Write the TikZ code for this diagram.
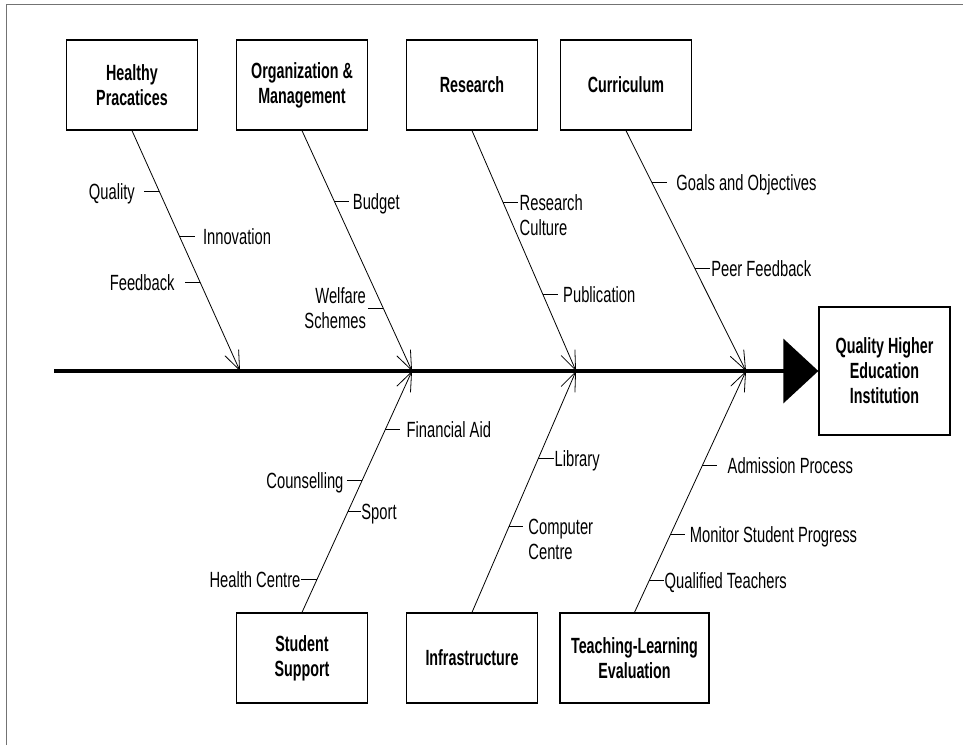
\documentclass[tikz,border=0pt]{standalone}
\usepackage{fontspec}
\setmainfont{Liberation Sans}
\newfontfamily\lblfont[FakeStretch=0.67]{Liberation Sans}
\newfontfamily\boxfont[FakeStretch=0.65]{Liberation Sans Bold}
\usetikzlibrary{arrows.meta, positioning, calc}

\begin{document}
\begin{tikzpicture}[x=1pt,y=-1pt,node distance=170pt,
  cat/.style={draw, line width=1.3pt, minimum width=131pt, minimum height=90pt,
    align=center, inner sep=2pt, font=\fontsize{22}{25}\boxfont},
  bone/.style={line width=0.8pt, -{Straight Barb[length=19pt,width=15pt]}},
  spine/.style={line width=3.5pt, -{Triangle[length=35pt,width=64pt]}},
  rib/.style={line width=1pt},
  sub/.style={font=\fontsize{22}{25}\lblfont, inner sep=0pt, text height=16pt, text depth=0pt},
  sub2/.style={font=\fontsize{22}{25}\lblfont, inner sep=0pt, align=left},
  pageedge/.style={draw=black!55, line width=0.8pt}]
  \useasboundingbox (0,0) rectangle (963,745);
  \draw[pageedge] (6,745) |- (963,4.5);

  % categories
  \node[cat] (hp)  at (132,85)           {Healthy\\Pracatices};
  \node[cat] (om)  [right of=hp]         {Organization \&\\Management};
  \node[cat] (res) [right of=om]         {Research};
  \node[cat] (cur) [right of=res, node distance=154pt] {Curriculum};
  \node[cat] (ss)  [below of=om, node distance=573pt]  {Student\\Support};
  \node[cat] (inf) [below of=res, node distance=573pt] {Infrastructure};
  \node[cat, minimum width=149pt] (tle) at (634.5,658) {Teaching-Learning\\Evaluation};
  \node[cat, minimum height=128pt] (qhe) at (884.5,371) {Quality Higher\\Education\\Institution};

  % spine
  \coordinate (tail) at (54,371);
  \coordinate (j1) at (240,371);
  \coordinate (j2) at (412,371);
  \coordinate (j3) at (576,371);
  \coordinate (j4) at (746,371);
  \draw[spine] (tail) -- (qhe.west);

  % bones
  \draw[bone] (hp.south) -- (j1) coordinate[pos=.253] (hp1) coordinate[pos=.44] (hp2) coordinate[pos=.63] (hp3);
  \draw[bone] (om.south) -- (j2) coordinate[pos=.295] (om1) coordinate[pos=.74] (om2);
  \draw[bone] (res.south) -- (j3) coordinate[pos=.30] (res1) coordinate[pos=.68] (res2);
  \draw[bone] (cur.south) -- (j4) coordinate[pos=.216] (cur1) coordinate[pos=.573] (cur2);
  \draw[bone] (ss.north) -- (j2) coordinate[pos=.756] (ss1) coordinate[pos=.545] (ss2)
    coordinate[pos=.417] (ss3) coordinate[pos=.136] (ss4);
  \draw[bone] (inf.north) -- (j3) coordinate[pos=.636] (inf1) coordinate[pos=.355] (inf2);
  \draw[bone] (tle.north) -- (j4) coordinate[pos=.607] (tle1) coordinate[pos=.322] (tle2)
    coordinate[pos=.132] (tle3);

  % sub causes
  \draw[rib] (hp1) -- ++(-15,0) node[sub, left=9pt] (quality) {Quality};
  \draw[rib] (hp2) -- ++(15,0) node[sub, right=8pt] (innov) {Innovation};
  \draw[rib] (hp3) -- ++(-15,0) node[sub, left=10pt] (fdbk) {Feedback};
  \draw[rib] (om1) -- ++(15,0) node[sub, right=3pt] (budget) {Budget};
  \draw[rib] (om2) -- ++(-15,0) node[sub2, align=right, left=2pt] (welfare) {Welfare\\Schemes};
  \draw[rib] (res1) -- ++(15,0) node[sub2, anchor=north west, xshift=1pt, yshift=8.5pt] (rcult) {Research\\Culture};
  \draw[rib] (res2) -- ++(15,0) node[sub, right=5pt] (pub) {Publication};
  \draw[rib] (cur1) -- ++(15,0) node[sub, right=9pt] (goals) {Goals and Objectives};
  \draw[rib] (cur2) -- ++(15,0) node[sub, right=1pt] (peer) {Peer Feedback};
  \draw[rib] (ss1) -- ++(15,0) node[sub, right=6pt] (finaid) {Financial Aid};
  \draw[rib] (ss2) -- ++(-15,0) node[sub, left=3pt] (couns) {Counselling};
  \draw[rib] (ss3) -- ++(13,0) node[sub, right=0pt] (sport) {Sport};
  \draw[rib] (ss4) -- ++(-16,0) node[sub, left=0pt] (health) {Health Centre};
  \draw[rib] (inf1) -- ++(16,0) node[sub, right=0pt] (lib) {Library};
  \draw[rib] (inf2) -- ++(14,0) node[sub2, anchor=north west, xshift=5pt, yshift=8.5pt] (comp) {Computer\\Centre};
  \draw[rib] (tle1) -- ++(15,0) node[sub, right=10pt] (adm) {Admission Process};
  \draw[rib] (tle2) -- ++(15,0) node[sub, right=4pt] (monitor) {Monitor Student Progress};
  \draw[rib] (tle3) -- ++(15,0) node[sub, right=0pt] (qualt) {Qualified Teachers};
\end{tikzpicture}
\end{document}
